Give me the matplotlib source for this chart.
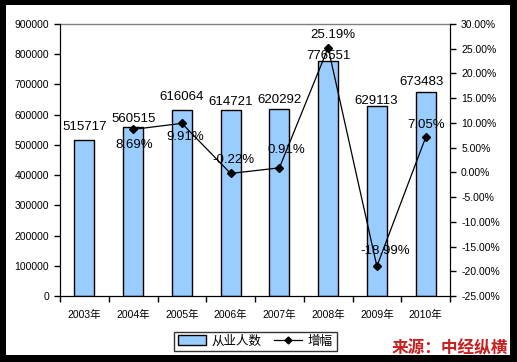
import matplotlib
matplotlib.use("Agg")
import matplotlib.pyplot as plt
from matplotlib.patches import Rectangle
from matplotlib.lines import Line2D
import numpy as np

plt.rcParams['font.family'] = ['Liberation Sans', 'Noto Sans CJK SC']

years = ['2003年', '2004年', '2005年', '2006年', '2007年', '2008年', '2009年', '2010年']
employees = [515717, 560515, 616064, 614721, 620292, 776551, 629113, 673483]
growth_years_idx = [1, 2, 3, 4, 5, 6, 7]
growth = [8.69, 9.91, -0.22, 0.91, 25.19, -18.99, 7.05]

left_ticks = list(range(0, 900001, 100000))
right_ticks = list(range(-25, 31, 5))

# label offsets in pixels (dx, dy), style only
bar_label_off = [(0, 13), (0, 8), (0, 13), (0, 8), (0, 9), (0, 5), (-1, 5), (-4, 10)]
pct_label_off = [(1, -16), (3, -14), (3, 13), (7, 18), (5, 13), (8, 15), (0, 12)]

W, H = 517, 362
fig = plt.figure(figsize=(W / 100, H / 100), dpi=100, facecolor='black')
fig.add_artist(Rectangle((6 / W, 7 / H), 504 / W, 350 / H, transform=fig.transFigure,
                         facecolor='white', edgecolor='none', zorder=-1))

L, R, T, B = 60, 450, 24, 296
ax = fig.add_axes([L / W, 1 - B / H, (R - L) / W, (B - T) / H])
ax.set_facecolor('white')
x = np.arange(len(years))
bars = ax.bar(x, employees, width=0.41, color='#99CCFF', edgecolor='black', linewidth=1, zorder=2)
ax.set_xlim(-0.5, len(years) - 0.5)
ax.set_ylim(0, 900000)
ax.set_yticks(left_ticks)
ax.set_yticklabels([str(v) for v in left_ticks], fontsize=7.5)
ax.set_xticks(x)
ax.set_xticklabels(years, fontsize=7.5)
ax.set_xticks(np.arange(-0.5, len(years)), minor=True)
ax.tick_params(axis='x', which='major', length=0, pad=10)
ax.tick_params(axis='x', which='minor', length=4, width=1, direction='out')
ax.tick_params(axis='y', length=4, width=1, direction='out', pad=4)
for s in ['left', 'bottom', 'right']:
    ax.spines[s].set_color('black')
ax.spines['top'].set_color('#808080')
ax.spines['top'].set_linewidth(1)

for i, v in enumerate(employees):
    dx, dy = bar_label_off[i]
    ax.annotate(str(v), (x[i], v), xytext=(dx, dy), textcoords='offset pixels',
                ha='center', va='center', fontsize=9.5, zorder=5)

ax2 = ax.twinx()
ax2.set_ylim(-25, 30)
ax2.set_yticks(right_ticks)
ax2.set_yticklabels([f'{v:.2f}%' for v in right_ticks], fontsize=7.5)
ax2.tick_params(axis='y', length=4, width=1, direction='out', pad=4)
ax2.spines['top'].set_visible(False)
ax2.spines['right'].set_color('black')
gx = [x[i] for i in growth_years_idx]
ax2.plot(gx, growth, color='black', linewidth=0.9, marker='D', markersize=4, zorder=4)
for i, (xi, v) in enumerate(zip(gx, growth)):
    dx, dy = pct_label_off[i]
    ax2.annotate(f'{v:.2f}%', (xi, v), xytext=(dx, dy), textcoords='offset pixels',
                 ha='center', va='center', fontsize=9.5, zorder=5)

handles = [Rectangle((0, 0), 1, 1, facecolor='#99CCFF', edgecolor='black', linewidth=1),
           Line2D([], [], color='black', linewidth=0.9, marker='D', markersize=3.5)]
leg = fig.legend(handles, ['从业人数', '增幅'], loc='center',
                 bbox_to_anchor=(255.5 / W, 1 - 341.5 / H), ncol=2, fontsize=9,
                 frameon=True, fancybox=False, edgecolor='black', handlelength=2.2,
                 handleheight=0.8, columnspacing=1.0, handletextpad=0.5,
                 borderpad=0.3, borderaxespad=0)
leg.get_frame().set_linewidth(1)

fig.text(508 / W, 1 - 348 / H, '来源：中经纵横', ha='right', va='center', fontsize=12,
         fontweight='bold', color='#C8201E', family=['Noto Sans CJK SC'], zorder=10)

fig.savefig('out.png', dpi=100, facecolor='black')
